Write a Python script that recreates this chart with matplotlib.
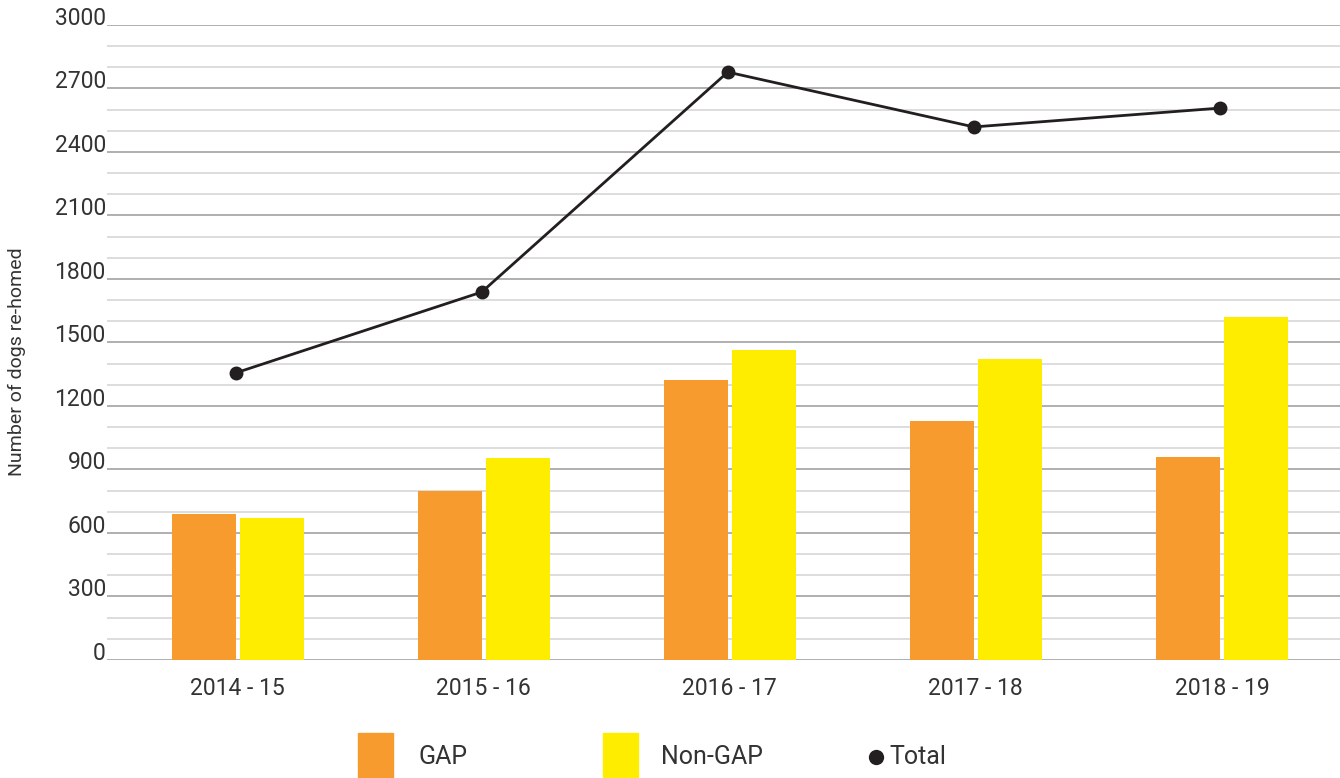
import matplotlib
matplotlib.use("Agg")
import matplotlib.pyplot as plt
from matplotlib.patches import Rectangle
from matplotlib.lines import Line2D
import numpy as np

categories = ["2014 - 15", "2015 - 16", "2016 - 17", "2017 - 18", "2018 - 19"]
gap = [690, 798, 1323, 1129, 959]
non_gap = [671, 954, 1464, 1422, 1620]
total = [1356, 1738, 2777, 2518, 2607]
y_ticks = [0, 300, 600, 900, 1200, 1500, 1800, 2100, 2400, 2700, 3000]

orange = "#f79b2e"
yellow = "#ffed00"
dark = "#231f20"
txt = "#333333"

plt.rcParams['font.family'] = ['Roboto', 'DejaVu Sans']

fig = plt.figure(figsize=(13.4, 7.78), dpi=100)
ax = fig.add_axes([0.08, 0.1517, 0.92, 0.8163])

x = np.arange(len(categories))
w = 0.26
off = 0.138
ax.bar(x - off, gap, width=w, color=orange, zorder=3)
ax.bar(x + off, non_gap, width=w, color=yellow, zorder=3)
ax.plot(x - 0.008, total, color=dark, lw=2.0, marker='o', markersize=9, zorder=4)

ax.set_xlim(-0.53, 4.48)
ax.set_ylim(0, 3000)

for v in range(0, 3001, 100):
    if v % 300 == 0:
        ax.axhline(v, color="#9a9a9a", lw=1.1, zorder=1)
    else:
        ax.axhline(v, color="#d3d3d3", lw=1.1, zorder=1)

for s in ax.spines.values():
    s.set_visible(False)

ax.set_yticks(y_ticks)
ax.set_yticklabels([str(v) for v in y_ticks], fontsize=16.5, color=txt)
for lab in ax.get_yticklabels():
    lab.set_verticalalignment('baseline')
ax.tick_params(axis='y', length=0, pad=1)
ax.set_xticks(x)
ax.set_xticklabels(categories, fontsize=16.5, color=txt)
ax.tick_params(axis='x', length=0, pad=12)

fig.text(0.013, 0.535, "Number of dogs re-homed", rotation=90, fontsize=14,
         color=txt, ha='center', va='center')

# legend
H = 778.0
Wd = 1340.0
fig.add_artist(Rectangle((358 / Wd, 1 - 777 / H), 35 / Wd, 44 / H,
                         transform=fig.transFigure, color=orange))
fig.text(418 / Wd, 1 - 757 / H, "GAP", fontsize=18, color=txt, va='center')
fig.add_artist(Rectangle((603 / Wd, 1 - 777 / H), 35 / Wd, 44 / H,
                         transform=fig.transFigure, color=yellow))
fig.text(661 / Wd, 1 - 757 / H, "Non-GAP", fontsize=18, color=txt, va='center')
fig.add_artist(Line2D([876 / Wd], [1 - 757 / H], marker='o', markersize=10,
                      color=dark, transform=fig.transFigure))
fig.text(889 / Wd, 1 - 757 / H, "Total", fontsize=18, color=txt, va='center')

fig.savefig("out.png", dpi=100)
